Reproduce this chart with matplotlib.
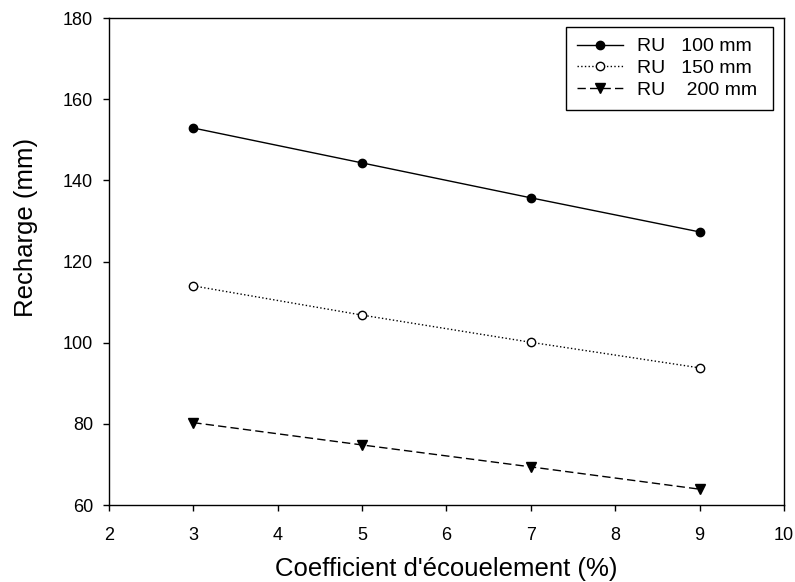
import matplotlib
matplotlib.use('Agg')
import matplotlib.pyplot as plt

plt.rcParams['font.family'] = ['Liberation Sans', 'DejaVu Sans']

coef = [3, 5, 7, 9]
ru100 = [152.9, 144.3, 135.7, 127.3]
ru150 = [114.0, 106.8, 100.1, 93.8]
ru200 = [80.3, 74.8, 69.4, 63.9]
labels = ['RU   100 mm ', 'RU   150 mm ', 'RU    200 mm ']

fig = plt.figure(figsize=(7.95, 5.82), dpi=100)
ax = fig.add_axes([0.137, 0.1323, 0.849, 0.8367])

ax.plot(coef, ru100, '-', color='black', lw=1, marker='o', ms=6, label=labels[0])
ax.plot(coef, ru150, ':', color='black', lw=1, marker='o', ms=6, mfc='white', label=labels[1])
ax.plot(coef, ru200, '--', color='black', lw=1, marker='v', ms=7, label=labels[2], dashes=(6, 3))

ax.set_xlim(2, 10)
ax.set_ylim(60, 180)
ax.set_xticks(range(2, 11))
ax.set_yticks(range(60, 181, 20))
ax.tick_params(direction='out', length=4.5, width=1, labelsize=13)
ax.tick_params(axis='x', pad=11)
ax.tick_params(axis='y', pad=7)
for s in ax.spines.values():
    s.set_linewidth(1)

ax.set_xlabel("Coefficient d'écouelement (%)", fontsize=18.5, labelpad=10)
ax.set_ylabel('Recharge (mm)', fontsize=18.5, labelpad=18)
ax.yaxis.label.set_y(0.569)

leg = ax.legend(loc='upper right', fontsize=14, frameon=True, fancybox=False,
                edgecolor='black', framealpha=1, handlelength=2.35, handletextpad=0.72,
                borderpad=0.55, labelspacing=0.22, borderaxespad=0,
                bbox_to_anchor=(0.9837, 0.9815))
leg.get_frame().set_linewidth(1)

fig.savefig('out.png', dpi=100)
